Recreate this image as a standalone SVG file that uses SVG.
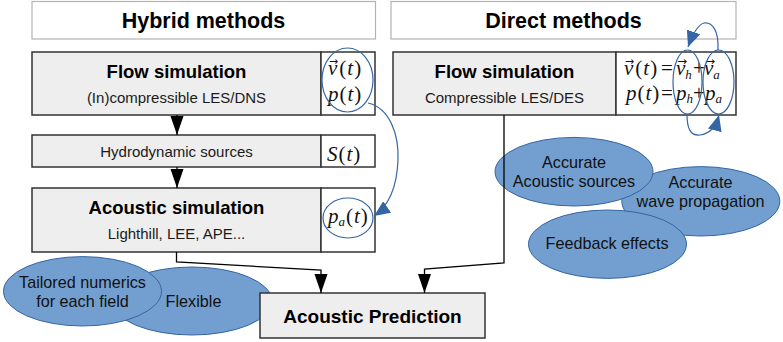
<svg xmlns="http://www.w3.org/2000/svg" width="783" height="342" viewBox="0 0 783 342">
  <style>
    .hdr { fill: #ffffff; stroke: #b3b3b3; stroke-width: 1.2; }
    .box { fill: #eeeeee; stroke: #333333; stroke-width: 1.5; }
    .var { fill: #ffffff; stroke: #333333; stroke-width: 1.5; }
    .bub { fill: #729fcf; stroke: #3465a4; stroke-width: 1; }
    .ring { fill: none; stroke: #3465a4; stroke-width: 1.2; }
    .flow { fill: none; stroke: #3465a4; stroke-width: 1.2; }
    .conn { fill: none; stroke: #000000; stroke-width: 1.3; }
    .h1 { font-family: "Liberation Sans", Arial, sans-serif; font-weight: bold; font-size: 21.5px; fill: #000; text-anchor: middle; }
    .h2 { font-family: "Liberation Sans", Arial, sans-serif; font-weight: bold; font-size: 18.5px; fill: #000; text-anchor: middle; }
    .sub { font-family: "Liberation Sans", Arial, sans-serif; font-size: 15px; fill: #1a1a1a; text-anchor: middle; }
    .btx { font-family: "Liberation Sans", Arial, sans-serif; font-size: 16.2px; fill: #111; text-anchor: middle; }
    .m { font-family: "Liberation Serif", "DejaVu Serif", serif; font-size: 21px; fill: #111; }
    .i { font-style: italic; }
    .s { font-style: italic; font-size: 13px; }
    .vec { font-family: "DejaVu Sans", sans-serif; font-size: 11px; fill: #111; }
  </style>
  <defs>
    <marker id="blk" markerUnits="userSpaceOnUse" markerWidth="20" markerHeight="14" refX="19" refY="6.5" orient="auto">
      <path d="M0,0 L19,6.5 L0,13 z" fill="#000"/>
    </marker>
    <marker id="blu" markerUnits="userSpaceOnUse" markerWidth="18" markerHeight="16" refX="16" refY="7" orient="auto">
      <path d="M0,0 L16,7 L0,14 z" fill="#3465a4"/>
    </marker>
  </defs>

  <!-- column headers -->
  <g id="hybrid-header">
    <rect class="hdr" x="32" y="1.5" width="343.5" height="37.5"/>
    <text class="h1" x="203.5" y="28">Hybrid methods</text>
  </g>
  <g id="direct-header">
    <rect class="hdr" x="391" y="1.5" width="345" height="37.5"/>
    <text class="h1" x="563.5" y="28">Direct methods</text>
  </g>

  <!-- hybrid advantages -->
  <g id="flexible">
    <ellipse class="bub" cx="192" cy="301" rx="80" ry="34"/>
    <text class="btx" x="193.5" y="307">Flexible</text>
  </g>
  <g id="tailored">
    <ellipse class="bub" cx="82.5" cy="291.3" rx="79" ry="34.7"/>
    <text class="btx" x="82.5" y="288">Tailored numerics</text>
    <text class="btx" x="82.5" y="307">for each field</text>
  </g>

  <!-- hybrid chain -->
  <g id="hybrid-flow">
    <rect class="box" x="32" y="52" width="289" height="63"/>
    <rect class="var" x="321" y="52" width="54" height="63"/>
    <text class="h2" x="176.5" y="78">Flow simulation</text>
    <text class="sub" x="176.5" y="103">(In)compressible LES/DNS</text>
    <text class="vec" x="329" y="65" textLength="9" lengthAdjust="spacingAndGlyphs">→</text>
    <text class="m" x="328" y="75"><tspan class="i">v</tspan><tspan dx="2">(</tspan><tspan class="i" dx="1">t</tspan><tspan dx="1">)</tspan></text>
    <text class="m" x="328" y="101"><tspan class="i">p</tspan><tspan dx="1">(</tspan><tspan class="i" dx="1">t</tspan><tspan dx="1">)</tspan></text>
  </g>
  <g id="hybrid-sources">
    <rect class="box" x="32" y="135" width="289" height="32"/>
    <rect class="var" x="321" y="135" width="54" height="32"/>
    <text class="sub" x="176.5" y="157">Hydrodynamic sources</text>
    <text class="m" x="327" y="161"><tspan class="i">S</tspan><tspan dx="1">(</tspan><tspan class="i" dx="1">t</tspan><tspan dx="1">)</tspan></text>
  </g>
  <g id="hybrid-acoustic">
    <rect class="box" x="32" y="188" width="289" height="64"/>
    <rect class="var" x="321" y="188" width="54" height="64"/>
    <text class="h2" x="176.5" y="214">Acoustic simulation</text>
    <text class="sub" x="176.5" y="239">Lighthill, LEE, APE...</text>
    <text class="m" x="328" y="223"><tspan class="i">p</tspan><tspan class="s" dy="3">a</tspan><tspan dy="-3" dx="1">(</tspan><tspan class="i" dx="1">t</tspan><tspan dx="1">)</tspan></text>
  </g>

  <!-- direct column -->
  <g id="direct-flow">
    <rect class="box" x="393" y="52" width="223" height="63"/>
    <rect class="var" x="616" y="52" width="120" height="63"/>
    <text class="h2" x="504.5" y="78">Flow simulation</text>
    <text class="sub" x="504.5" y="103">Compressible LES/DES</text>
    <text class="vec" x="625" y="65" textLength="9" lengthAdjust="spacingAndGlyphs">→</text>
    <text class="vec" x="677" y="65" textLength="10" lengthAdjust="spacingAndGlyphs">→</text>
    <text class="vec" x="705" y="65" textLength="10" lengthAdjust="spacingAndGlyphs">→</text>
    <text class="m" x="624" y="75"><tspan class="i">v</tspan><tspan dx="2">(</tspan><tspan class="i" dx="1">t</tspan><tspan dx="1">)</tspan><tspan x="661">=</tspan><tspan class="i" x="676">v</tspan><tspan class="s" dy="4">h</tspan><tspan dy="-4" x="693">+</tspan><tspan class="i" x="704">v</tspan><tspan class="s" dy="4">a</tspan></text>
    <text class="m" x="626" y="100"><tspan class="i">p</tspan><tspan dx="1">(</tspan><tspan class="i" dx="1">t</tspan><tspan dx="1">)</tspan><tspan x="661">=</tspan><tspan class="i" x="676">p</tspan><tspan class="s" dy="3">h</tspan><tspan dy="-3" x="693">+</tspan><tspan class="i" x="705">p</tspan><tspan class="s" dy="3">a</tspan></text>
  </g>
  <g id="wave-propagation">
    <ellipse class="bub" cx="700.8" cy="201.3" rx="79" ry="34.7"/>
    <text class="btx" x="700.5" y="188">Accurate</text>
    <text class="btx" x="700.5" y="207">wave propagation</text>
  </g>
  <g id="acoustic-sources">
    <ellipse class="bub" cx="574" cy="171.7" rx="79" ry="34.3"/>
    <text class="btx" x="574" y="168">Accurate</text>
    <text class="btx" x="574" y="187">Acoustic sources</text>
  </g>
  <g id="feedback">
    <ellipse class="bub" cx="607.5" cy="244.2" rx="79" ry="34.2"/>
    <text class="btx" x="607" y="249">Feedback effects</text>
  </g>

  <!-- result -->
  <g id="prediction">
    <rect class="box" x="260" y="293" width="225" height="45"/>
    <text class="h2" x="372.5" y="323" style="font-size:19px">Acoustic Prediction</text>
  </g>

  <!-- variable highlights and transfers -->
  <g id="highlights">
    <ellipse class="ring" cx="347.5" cy="80" rx="25.5" ry="32"/>
    <ellipse class="ring" cx="348" cy="218" rx="25" ry="20"/>
    <ellipse class="ring" cx="687.5" cy="82" rx="14.5" ry="32"/>
    <ellipse class="ring" cx="718.5" cy="82" rx="15.5" ry="32"/>
    <path class="flow" d="M368,103 C390,108 399,135 398,160 C397,185 390,205 374,216" marker-end="url(#blu)"/>
    <path class="flow" d="M718,50 C719,30 712,22 704,23 C697,25 692,36 688,47" marker-end="url(#blu)"/>
    <path class="flow" d="M687,114 C687,128 690,136 700,135 C710,134 716,126 719,115" marker-end="url(#blu)"/>
  </g>

  <!-- connectors -->
  <g id="connectors">
    <path class="conn" d="M177,115 L177,135" marker-end="url(#blk)"/>
    <path class="conn" d="M177,167 L177,188" marker-end="url(#blk)"/>
    <path class="conn" d="M176.5,252 L176.5,262 L321,270 L321,293" marker-end="url(#blk)"/>
    <path class="conn" d="M504,115 L504,263 L424.5,269 L424.5,293" marker-end="url(#blk)"/>
  </g>
</svg>
